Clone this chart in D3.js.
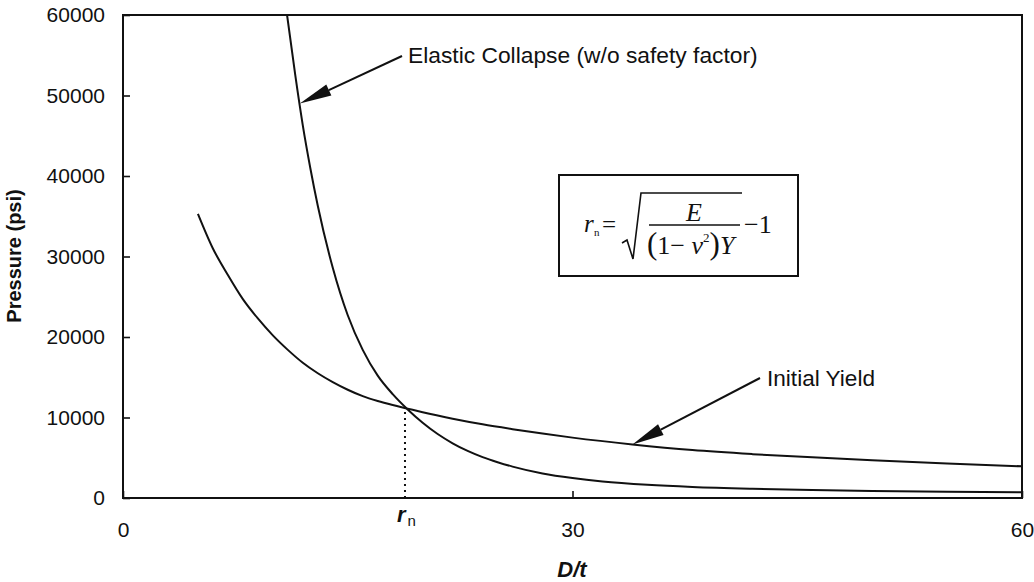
<!DOCTYPE html>
<html>
<head>
<meta charset="utf-8">
<script src="https://cdn.jsdelivr.net/npm/d3@7/dist/d3.min.js"></script>
<style>
  html, body { margin: 0; padding: 0; background: #fff; }
  svg { display: block; }
  .tick text { font-family: "Liberation Sans", Arial, sans-serif; font-size: 21px; fill: #111; }
</style>
</head>
<body>
<svg id="chart" width="1034" height="582"></svg>
<script>
// Collapse pressure of a tube versus diameter-to-thickness ratio
const elasticDt  = [10.95, 11.5, 12, 12.5, 13, 14, 15, 16, 17, 18, 19, 20, 21, 22, 23, 24, 25, 26, 28, 30, 32, 35, 38, 42, 46, 50, 55, 60];
const elasticPsi = [60000, 52500, 46300, 41000, 36300, 28600, 22700, 18400, 15200, 12900, 11000, 9350, 7950, 6800, 5850, 5080, 4450, 3900, 3050, 2480, 2060, 1650, 1380, 1150, 990, 880, 780, 700];

const yieldDt  = [5, 6, 7, 8, 9, 10, 11, 12, 13, 14, 15, 16, 17, 18, 19, 20, 22, 24, 26, 28, 30, 34, 38, 42, 46, 50, 55, 60];
const yieldPsi = [35300, 31000, 27700, 24700, 22300, 20200, 18400, 16800, 15500, 14400, 13450, 12650, 12050, 11550, 11100, 10650, 9850, 9150, 8550, 8000, 7500, 6650, 5950, 5450, 5050, 4700, 4300, 3930];

const xTicks = [0, 30, 60];
const yTicks = [0, 10000, 20000, 30000, 40000, 50000, 60000];

// Intersection of the two curves
const rnDt = 18.82;
const rnPsi = 11250;

const svg = d3.select("#chart");
const plotLeft = 123, plotRight = 1022, plotTop = 15, plotBottom = 498;

const x = d3.scaleLinear().domain([0, 60]).range([plotLeft, plotRight]);
const y = d3.scaleLinear().domain([0, 60000]).range([plotBottom, plotTop]);

// Axes with inward ticks
svg.append("g")
  .attr("transform", `translate(0,${plotBottom})`)
  .call(d3.axisBottom(x).tickValues(xTicks).tickSizeInner(-7).tickSizeOuter(0).tickPadding(24).tickFormat(d3.format("d")))
  .call(g => g.select(".domain").remove())
  .call(g => g.selectAll(".tick line").attr("stroke", "#111").attr("stroke-width", 1.6));

svg.append("g")
  .attr("transform", `translate(${plotLeft},0)`)
  .call(d3.axisLeft(y).tickValues(yTicks).tickSizeInner(-7).tickSizeOuter(0).tickPadding(18).tickFormat(d3.format("d")))
  .call(g => g.select(".domain").remove())
  .call(g => g.selectAll(".tick line").attr("stroke", "#111").attr("stroke-width", 1.6));

// Plot frame
svg.append("rect")
  .attr("x", plotLeft).attr("y", plotTop)
  .attr("width", plotRight - plotLeft).attr("height", plotBottom - plotTop)
  .attr("fill", "none").attr("stroke", "#111").attr("stroke-width", 2);

// Curves
svg.append("clipPath").attr("id", "plotClip")
  .append("rect").attr("x", plotLeft).attr("y", plotTop).attr("width", plotRight - plotLeft).attr("height", plotBottom - plotTop);

const line = d3.line()
  .x(d => x(d[0]))
  .y(d => y(d[1]))
  .curve(d3.curveMonotoneX);

const curves = svg.append("g").attr("clip-path", "url(#plotClip)");
curves.append("path")
  .datum(d3.zip(elasticDt, elasticPsi))
  .attr("d", line)
  .attr("fill", "none").attr("stroke", "#111").attr("stroke-width", 2);
curves.append("path")
  .datum(d3.zip(yieldDt, yieldPsi))
  .attr("d", line)
  .attr("fill", "none").attr("stroke", "#111").attr("stroke-width", 2);

// Dotted drop line at r_n
svg.append("line")
  .attr("x1", x(rnDt)).attr("x2", x(rnDt))
  .attr("y1", y(0)).attr("y2", y(rnPsi))
  .attr("stroke", "#111").attr("stroke-width", 2).attr("stroke-dasharray", "2,4");

const rnLabel = svg.append("text")
  .attr("x", x(rnDt) - 8).attr("y", 522)
  .attr("font-family", "Liberation Sans, Arial, sans-serif").attr("fill", "#111");
rnLabel.append("tspan").attr("font-size", 22).attr("font-weight", "bold").attr("font-style", "italic").text("r");
rnLabel.append("tspan").attr("font-size", 15).attr("dx", 2).attr("dy", 4).text("n");

// Axis titles
svg.append("text")
  .attr("x", 572).attr("y", 577)
  .attr("text-anchor", "middle")
  .attr("font-family", "Liberation Sans, Arial, sans-serif")
  .attr("font-size", 22).attr("font-weight", "bold").attr("font-style", "italic")
  .attr("fill", "#111").text("D/t");

svg.append("text")
  .attr("transform", "translate(21,256) rotate(-90)")
  .attr("text-anchor", "middle")
  .attr("font-family", "Liberation Sans, Arial, sans-serif")
  .attr("font-size", 20).attr("font-weight", "bold")
  .attr("fill", "#111").text("Pressure (psi)");

// Annotation arrows
function arrow(x1, y1, x2, y2) {
  const ang = Math.atan2(y2 - y1, x2 - x1);
  const len = 32, half = 6;
  const bx = x2 - len * Math.cos(ang), by = y2 - len * Math.sin(ang);
  svg.append("line")
    .attr("x1", x1).attr("y1", y1).attr("x2", bx).attr("y2", by)
    .attr("stroke", "#111").attr("stroke-width", 2);
  const px = -Math.sin(ang) * half, py = Math.cos(ang) * half;
  svg.append("path")
    .attr("d", `M${x2},${y2}L${bx + px},${by + py}L${bx - px},${by - py}Z`)
    .attr("fill", "#111");
}

arrow(402, 56, x(11.8), y(49000));
svg.append("text")
  .attr("x", 408).attr("y", 63)
  .attr("font-family", "Liberation Sans, Arial, sans-serif").attr("font-size", 22.8)
  .attr("fill", "#111").text("Elastic Collapse (w/o safety factor)");

arrow(760, 378, x(34), y(6650));
svg.append("text")
  .attr("x", 767).attr("y", 386)
  .attr("font-family", "Liberation Sans, Arial, sans-serif").attr("font-size", 22.6)
  .attr("fill", "#111").text("Initial Yield");

// Formula box for r_n
const f = svg.append("g").attr("font-family", "Liberation Serif, Times New Roman, serif").attr("fill", "#111");
f.append("rect")
  .attr("x", 559).attr("y", 175).attr("width", 239).attr("height", 101)
  .attr("fill", "#fff").attr("stroke", "#111").attr("stroke-width", 2);

f.append("text").attr("x", 584).attr("y", 232).attr("font-size", 25).attr("font-style", "italic").text("r");
f.append("text").attr("x", 594).attr("y", 236).attr("font-size", 11).text("n");
f.append("text").attr("x", 602).attr("y", 233).attr("font-size", 25).text("=");
f.append("path")
  .attr("d", "M622,243 L627,240 L633,259 L641,193 L742,193")
  .attr("fill", "none").attr("stroke", "#111").attr("stroke-width", 1.6);
f.append("text").attr("x", 694).attr("y", 221).attr("text-anchor", "middle")
  .attr("font-size", 26).attr("font-style", "italic").text("E");
f.append("line").attr("x1", 649).attr("x2", 740).attr("y1", 225).attr("y2", 225)
  .attr("stroke", "#111").attr("stroke-width", 1.6);

const den = f.append("text").attr("x", 647).attr("y", 254).attr("font-size", 26);
den.append("tspan").attr("font-size", 31).text("(");
den.append("tspan").text("1\u2212 ");
den.append("tspan").attr("font-style", "italic").text("\u03BD");
den.append("tspan").attr("font-size", 13).attr("dy", -12).text("2");
den.append("tspan").attr("font-size", 31).attr("dy", 12).text(")");
den.append("tspan").attr("font-style", "italic").text("Y");

f.append("text").attr("x", 744).attr("y", 233).attr("font-size", 26).text("\u22121");
</script>
</body>
</html>
